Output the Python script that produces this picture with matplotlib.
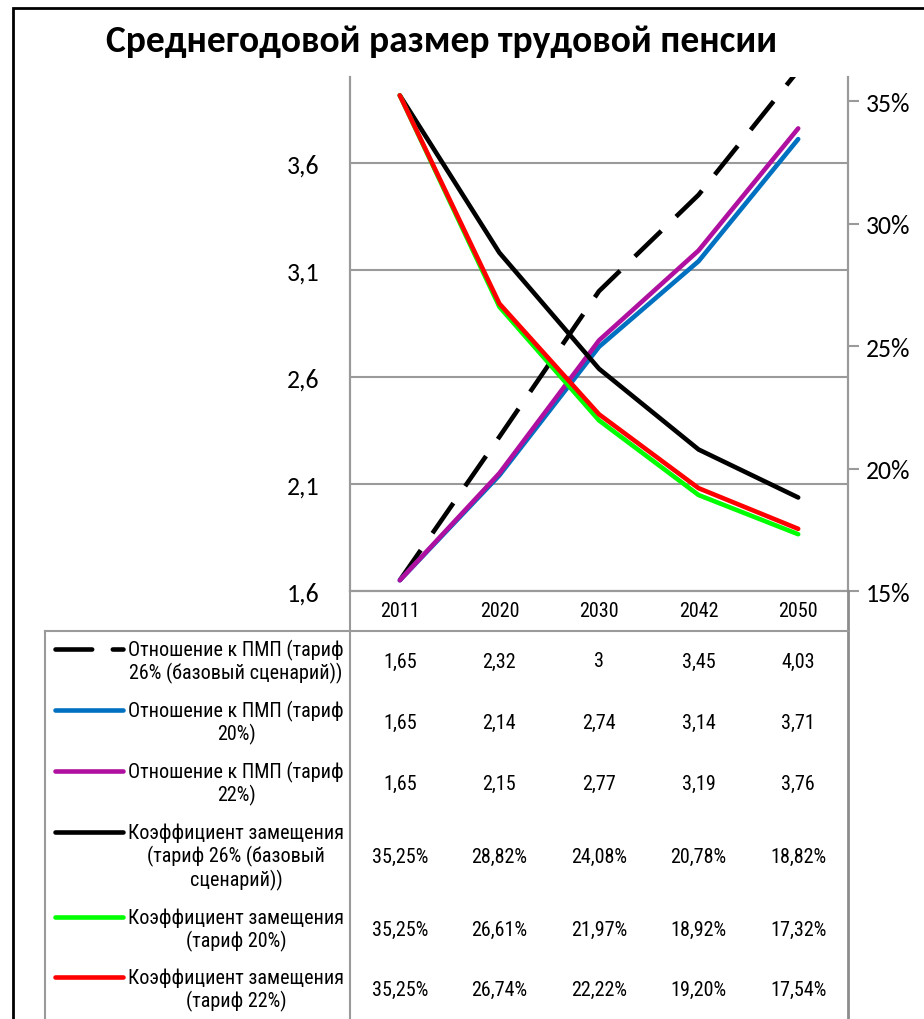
import matplotlib
matplotlib.use('Agg')
import matplotlib.pyplot as plt
from matplotlib.transforms import blended_transform_factory

# данные
years = ['2011', '2020', '2030', '2042', '2050']
pmp_26 = [1.65, 2.32, 3.00, 3.45, 4.03]
pmp_20 = [1.65, 2.14, 2.74, 3.14, 3.71]
pmp_22 = [1.65, 2.15, 2.77, 3.19, 3.76]
kz_26 = [35.25, 28.82, 24.08, 20.78, 18.82]
kz_20 = [35.25, 26.61, 21.97, 18.92, 17.32]
kz_22 = [35.25, 26.74, 22.22, 19.20, 17.54]

labels = [
    'Отношение к ПМП (тариф\n26% (базовый сценарий))',
    'Отношение к ПМП (тариф\n20%)',
    'Отношение к ПМП (тариф\n22%)',
    'Коэффициент замещения\n(тариф 26% (базовый\nсценарий))',
    'Коэффициент замещения\n(тариф 20%)',
    'Коэффициент замещения\n(тариф 22%)',
]
left_ticks = [1.6, 2.1, 2.6, 3.1, 3.6]
right_ticks = [15, 20, 25, 30, 35]

plt.rcParams['font.family'] = ['Roboto Condensed', 'DejaVu Sans']
calibri = ['Carlito', 'DejaVu Sans']

W, H = 924, 1020
fig = plt.figure(figsize=(W / 100, H / 100), dpi=100)

# слой для таблицы и рамки, координаты в пикселях
bg = fig.add_axes([0, 0, 1, 1], zorder=3)
bg.set_xlim(0, W)
bg.set_ylim(H, 0)
bg.axis('off')
bg.patch.set_visible(False)

ax = fig.add_axes([350 / W, (H - 592) / H, 498 / W, 514 / H], zorder=1)
ax2 = ax.twinx()

grey = '#9a9a9a'
lw = 3.3
series = [
    (ax, pmp_26, dict(color='black', linestyle=(0, (8, 4.5)))),
    (ax, pmp_20, dict(color='#0070C0')),
    (ax, pmp_22, dict(color='#B010A0')),
    (ax2, kz_26, dict(color='black')),
    (ax2, kz_20, dict(color='#00FF00')),
    (ax2, kz_22, dict(color='#FF0000')),
]
x = list(range(len(years)))
for a, vals, st in series:
    a.plot(x, vals, linewidth=lw, solid_capstyle='round', dash_capstyle='butt', **st)

ax.set_xlim(-0.5, len(years) - 0.5)
ax.set_ylim(1.6, 4.0)
ax.set_yticks(left_ticks)
ax.set_yticklabels([f'{t:.1f}'.replace('.', ',') for t in left_ticks],
                   family=calibri, fontsize=18.5)
ax.set_xticks([])
ax.tick_params(axis='y', length=0, pad=22)
ax.grid(axis='y', color=grey, linewidth=1.5)
ax.set_axisbelow(True)

ax2.set_ylim(15, 36)
ax2.set_yticks(right_ticks)
ax2.set_yticklabels([f'{t}%' for t in right_ticks], family=calibri, fontsize=18.5)
ax2.tick_params(axis='y', length=8, width=1.5, color=grey, pad=5)

for a in (ax, ax2):
    a.spines['top'].set_visible(False)
    for s in ('left', 'right', 'bottom'):
        a.spines[s].set_color(grey)
        a.spines[s].set_linewidth(1.5)

fig.text(442 / W, 1 - 42 / H, 'Среднегодовой размер трудовой пенсии',
         ha='center', va='center', fontsize=27, fontweight='bold', family=calibri)

# рамка диаграммы
bg.plot([13, 13, W], [H, 9, 9], color='black', linewidth=2, solid_joinstyle='miter')

# таблица данных
tcol = '#8c8c8c'
bg.plot([350, 350], [592, H], color=grey, linewidth=1.5)
bg.plot([848, 848], [592, H], color=tcol, linewidth=2)
bg.plot([45, 848], [632, 632], color=grey, linewidth=1.5)
bg.plot([45, 45], [632, H], color=grey, linewidth=1.5)

tr = blended_transform_factory(ax.transData, bg.transData)
fs = 14.5
for i, yr in enumerate(years):
    bg.text(i, 612, yr, transform=tr, ha='center', va='center', fontsize=fs)

row_centers = [662, 723, 784, 857, 930, 990]
step = 24.5
for (a, vals, st), lab, yc in zip(series, labels, row_centers):
    n = lab.count('\n') + 1
    ky = yc - (n - 1) / 2 * step
    bg.plot([55, 123], [ky, ky], linewidth=lw, solid_capstyle='round',
            dash_capstyle='round', **st)
    bg.text(236, yc, lab, ha='center', va='center', multialignment='center',
            fontsize=fs, linespacing=1.17)
    for i, v in enumerate(vals):
        if a is ax:
            s = f'{v:g}'.replace('.', ',')
        else:
            s = f'{v:.2f}%'.replace('.', ',')
        bg.text(i, yc, s, transform=tr, ha='center', va='center', fontsize=fs)

fig.savefig('out.png', dpi=100)
